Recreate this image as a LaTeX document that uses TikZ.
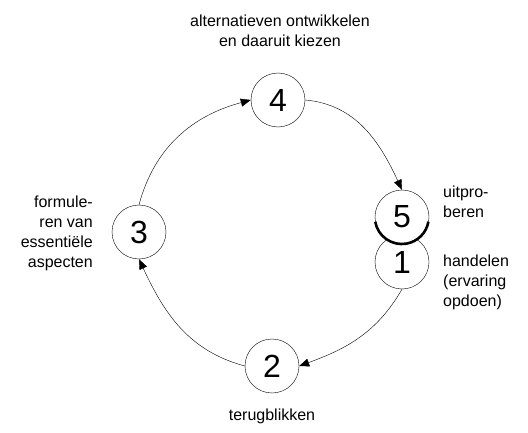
\documentclass[tikz,border=0pt]{standalone}
\usepackage{fontspec}
\setmainfont{Liberation Sans}
\usetikzlibrary{arrows.meta, positioning}

\begin{document}
\begin{tikzpicture}[
        x=1pt, y=1pt,
        stap/.style={circle, draw=black, fill=white, thin, minimum size=54pt, inner sep=0pt, font=\fontsize{32}{34}\selectfont},
        tekst/.style={inner sep=0pt, font=\fontsize{16}{20}\selectfont},
        pijl/.style={-{Triangle[length=10pt, width=8pt]}, thin}
    ]
        \useasboundingbox (0,0) rectangle (528,432);

        \node[stap] (s4) at (278,332) {4};
        \node[stap] (s1) at (402,170) {1};
        \node[stap] (s5) at (402,215) {5};
        \draw[line width=2.6pt] (s5.190) arc[start angle=190, end angle=350, radius=27pt];
        \node[stap] (s3) at (139,200) {3};
        \node[stap] (s2) at (272,66) {2};

        \node[tekst, align=center] (t4) at (280,401) {alternatieven ontwikkelen\\en daaruit kiezen};
        \node[tekst, align=left, anchor=west] (t5) at (443,230) {uitpro-\\beren};
        \node[tekst, align=left, anchor=west] (t1) at (443,150) {handelen\\(ervaring\\opdoen)};
        \node[tekst, align=right, anchor=east] (t3) at (93,199) {formule-\\ren van\\essentiële\\aspecten};
        \node[tekst] (t2) at (272,16) {terugblikken};

        \draw[pijl] (s3.north) to[out=75, in=195] (s4.west);
        \draw[pijl] (s4.east) to[out=-5, in=115] (s5.north);
        \draw[pijl] (s1.south) to[out=-120, in=20] (s2.east);
        \draw[pijl] (s2.west) to[out=165, in=-65] (s3.south);
    \end{tikzpicture}
\end{document}
